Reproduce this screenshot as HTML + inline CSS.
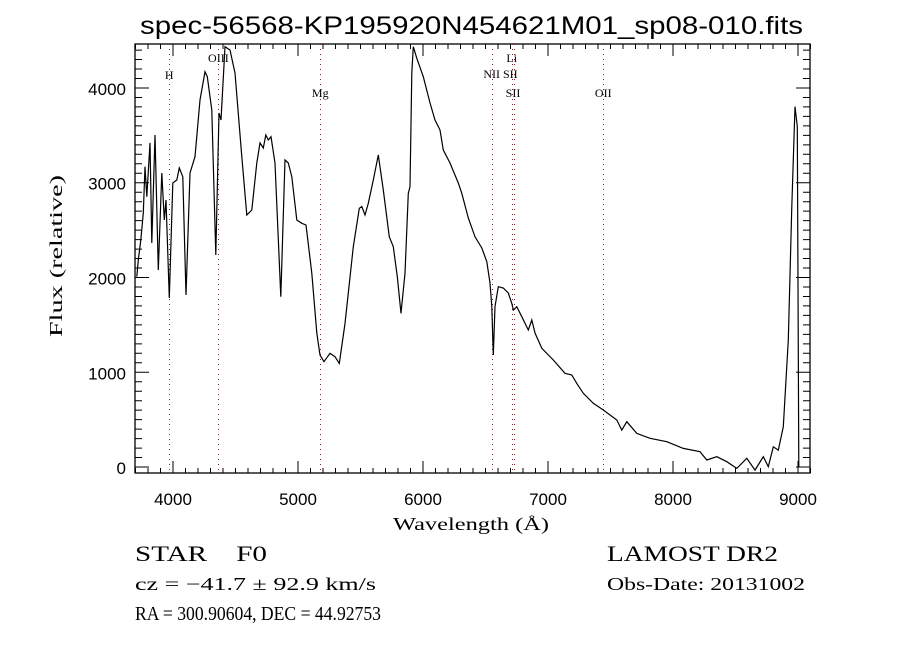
<!DOCTYPE html>
<html><head><meta charset="utf-8"><style>
html,body{margin:0;padding:0;background:#fff;width:900px;height:650px;overflow:hidden}
svg text{font-family:"Liberation Serif",serif;fill:#000}
</style></head><body>
<svg id="chart" width="900" height="650" viewBox="0 0 900 650" xmlns="http://www.w3.org/2000/svg">
<rect width="900" height="650" fill="#fff"/>
<text x="140" y="34" font-size="25" textLength="663" lengthAdjust="spacingAndGlyphs" style="font-family:'Liberation Sans',sans-serif">spec-56568-KP195920N454621M01_sp08-010.fits</text>
<g id="axes"></g>
<g id="lines"></g>
<path id="spec" fill="none" stroke="#000" stroke-width="1.2"/>
<text x="393" y="530" font-size="18" textLength="156" lengthAdjust="spacingAndGlyphs">Wavelength (Å)</text>
<text transform="translate(62,337) rotate(-90)" font-size="18" textLength="162" lengthAdjust="spacingAndGlyphs">Flux (relative)</text>
<text x="135" y="561" font-size="22" textLength="132" lengthAdjust="spacingAndGlyphs" xml:space="preserve">STAR    F0</text>
<text x="135" y="590" font-size="18" textLength="241" lengthAdjust="spacingAndGlyphs">cz = −41.7 ± 92.9 km/s</text>
<text x="135" y="620" font-size="20" textLength="246" lengthAdjust="spacingAndGlyphs">RA = 300.90604, DEC = 44.92753</text>
<text x="607" y="561" font-size="22" textLength="171" lengthAdjust="spacingAndGlyphs">LAMOST DR2</text>
<text x="607" y="590" font-size="18" textLength="198" lengthAdjust="spacingAndGlyphs">Obs-Date: 20131002</text>
</svg>
<script>
const wave=[3710,3722,3742,3762,3776,3790,3816,3830,3856,3882,3910,3930,3944,3970,3998,4030,4050,4078,4104,4136,4176,4216,4256,4274,4310,4342,4368,4384,4416,4456,4496,4550,4590,4630,4670,4696,4722,4742,4762,4784,4816,4862,4896,4922,4950,4990,5030,5064,5110,5150,5176,5208,5256,5296,5330,5376,5442,5490,5510,5536,5562,5602,5642,5682,5730,5762,5794,5824,5856,5882,5896,5910,5922,5950,6002,6056,6096,6136,6162,6216,6282,6310,6362,6416,6470,6510,6536,6550,6562,6576,6602,6642,6682,6710,6722,6750,6790,6842,6870,6896,6950,7042,7136,7190,7230,7282,7362,7442,7550,7590,7630,7710,7816,7950,8082,8216,8270,8350,8430,8510,8590,8656,8722,8762,8802,8842,8882,8922,8950,8976,8994,9006];
const flux=[2008,2185,2396,2680,3170,2853,3420,2364,3504,2079,3103,2607,2818,1784,2997,3029,3156,3064,1815,3103,3275,3873,4172,4119,3768,2237,3736,3662,4436,4401,4158,3275,2660,2712,3208,3420,3367,3504,3451,3486,3208,1797,3240,3208,3064,2607,2572,2554,2045,1414,1182,1111,1200,1164,1094,1515,2325,2730,2748,2660,2783,3029,3293,2923,2430,2325,2008,1622,2045,2888,2958,4158,4436,4313,4119,3842,3662,3557,3345,3208,2997,2888,2628,2430,2311,2167,1942,1692,1182,1692,1903,1889,1836,1727,1657,1692,1586,1446,1551,1414,1253,1129,989,971,883,778,672,602,496,390,478,355,303,267,197,162,74,109,56,-14,92,-32,109,4,214,179,425,1340,2748,3803,3592,4];
const xTicks=[4000,5000,6000,7000,8000,9000];
const yTicks=[0,1000,2000,3000,4000];
const lineWaves=[3970,4363,5178,6550,6710,6728,7442];
const lineLabels=[{t:"H",w:3970,y:79},{t:"OIII",w:4363,y:62},{t:"Mg",w:5178,y:97},{t:"Li",w:6710,y:62},{t:"NII SII",w:6620,y:78},{t:"SII",w:6720,y:97},{t:"OII",w:7442,y:97}];
const X0=3696,X1=9096,Y0=-63,Y1=4464,L=135,R=810,T=44,B=473;
const sx=w=>L+(w-X0)/(X1-X0)*(R-L);
const sy=f=>B-(f-Y0)/(Y1-Y0)*(B-T);
const NS="http://www.w3.org/2000/svg";
function mk(tag,attrs,parent){const e=document.createElementNS(NS,tag);for(const k in attrs)e.setAttribute(k,attrs[k]);parent.appendChild(e);return e;}
const axes=document.getElementById('axes');
const frame=mk('rect',{x:L,y:T,width:R-L,height:B-T,fill:'none',stroke:'#000','stroke-width':1.3},axes);


let d='';
for(let w=3700;w<=9100;w+=100){const x=sx(w);const len=(w%1000===0)?12:5;d+=`M${x},${B}v${-len}M${x},${T}v${len}`;}
for(let f=0;f<=4400;f+=100){const y=sy(f);const len=(f%1000===0)?14:7;d+=`M${L},${y}h${len}M${R},${y}h${-len}`;}
const ticks=mk('path',{d:d,stroke:'#000','stroke-width':1,fill:'none'},axes);


xTicks.forEach(w=>{const t=mk('text',{x:sx(w),y:505,'font-size':17,'text-anchor':'middle',style:"font-family:'Liberation Sans',sans-serif"},axes);t.textContent=w;

});
yTicks.forEach(f=>{const t=mk('text',{x:126,y:sy(f)+7,'font-size':17,'text-anchor':'end',style:"font-family:'Liberation Sans',sans-serif"},axes);t.textContent=f;

});
const lines=document.getElementById('lines');
lineWaves.forEach(w=>{const l=mk('line',{x1:Math.round(sx(w))+0.5,x2:Math.round(sx(w))+0.5,y1:T,y2:B,stroke:'#7a2a2a','stroke-width':1,'stroke-dasharray':'1,4'},lines);

});
lineLabels.forEach(o=>{const t=mk('text',{x:sx(o.w),y:o.y,'font-size':12,'text-anchor':'middle'},lines);t.textContent=o.t;

});
let p='';wave.forEach((w,i)=>{p+=(i?'L':'M')+sx(w).toFixed(1)+','+sy(flux[i]).toFixed(1);});
document.getElementById('spec').setAttribute('d',p);
</script>
</body></html>
